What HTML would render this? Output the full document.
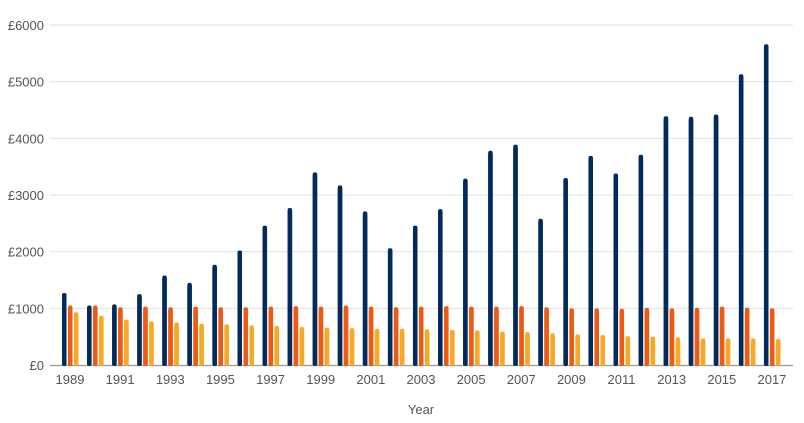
<!DOCTYPE html>
<html><head><meta charset="utf-8"><style>
html,body{margin:0;padding:0;background:#fff;}
svg{display:block;font-family:"Liberation Sans",sans-serif;}
</style></head><body>
<svg id="c" width="804" height="423" xmlns="http://www.w3.org/2000/svg">
<g id="grid"></g><g id="bars"></g><g id="lab"></g>
</svg>
<script>
const ns="http://www.w3.org/2000/svg",s=document.getElementById('c');
function el(t,a,p,txt){const e=document.createElementNS(ns,t);for(const k in a)e.setAttribute(k,a[k]);if(txt!=null)e.textContent=txt;(p||s).appendChild(e);return e;}
const g=document.getElementById('grid'),b=document.getElementById('bars'),l=document.getElementById('lab');
const y0=365,sc=340/6000;
for(let i=0;i<=6;i++){const y=y0-i*1000*sc;
 if(i>0)el('line',{x1:50,x2:793,y1:y,y2:y,stroke:'#e0e0e0','stroke-width':1},g);
 el('text',{x:44,y:y+5,'text-anchor':'end','font-size':13,fill:'#555'},l,'£'+(i*1000));}
el('line',{x1:50,x2:793,y1:y0+0.5,y2:y0+0.5,stroke:'#999','stroke-width':1.2},g);
const d=[1270,1050,1070,1250,1580,1450,1770,2020,2460,2770,3400,3170,2710,2060,2460,2750,3290,3780,3890,2580,3300,3690,3380,3710,4390,4380,4420,5130,5660];
const o=[1050,1050,1020,1030,1020,1030,1020,1020,1030,1040,1030,1050,1030,1020,1030,1040,1030,1030,1040,1020,1000,1000,990,1010,1000,1010,1030,1010,1000];
const yl=[930,870,800,770,750,730,720,700,690,670,660,650,640,640,630,620,610,590,580,560,540,530,510,500,490,470,470,470,460];
const cols=['#022b5c','#ee5a12','#f9a825'];
for(let i=0;i<29;i++){const cx=70+i*25.07;
 [d[i],o[i],yl[i]].forEach((v,j)=>{const h=v*sc,x=cx-8+j*6;
  el('rect',{x:x,y:y0-h,width:4.5,height:h+1,rx:2,fill:cols[j]},b);
  el('rect',{x:x,y:y0-h+3,width:4.5,height:h-3,fill:cols[j]},b);});
 if(i%2==0)el('text',{x:cx,y:384,'text-anchor':'middle','font-size':13,fill:'#555'},l,String(1989+i));}
el('text',{x:421,y:414,'text-anchor':'middle','font-size':13,fill:'#555'},l,'Year');
</script>
</body></html>
